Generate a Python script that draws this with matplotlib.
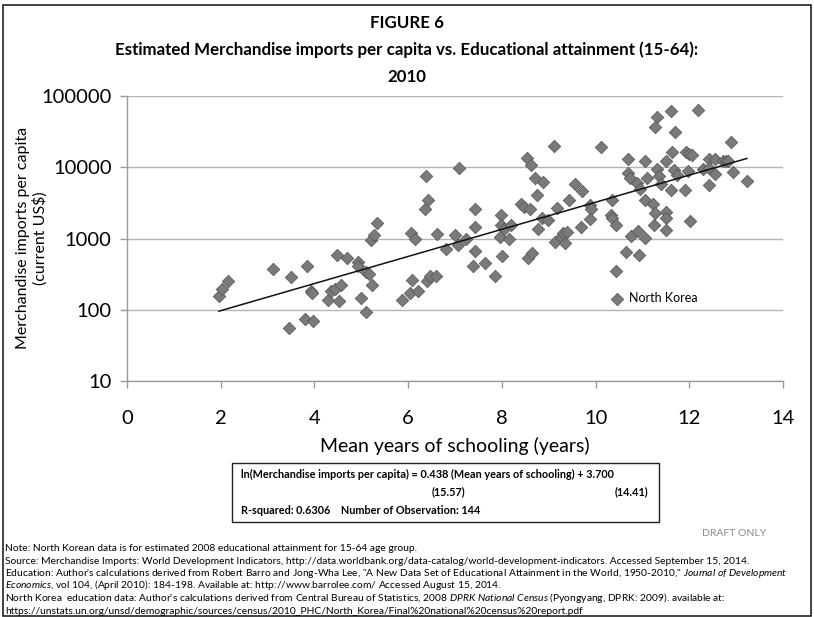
import numpy as np
import matplotlib
matplotlib.use("Agg")
import matplotlib.pyplot as plt
from matplotlib.patches import Rectangle

plt.rcParams["font.family"] = ["Lato", "DejaVu Sans"]
# italic titles inside the notes come through mathtext, so keep them in Lato
plt.rcParams["mathtext.fontset"] = "custom"
plt.rcParams["mathtext.rm"] = "Lato"
plt.rcParams["mathtext.it"] = "Lato:italic"

# mean years of schooling (15-64) and merchandise imports per capita (current US$)
schooling = [
    1.96, 2.03, 2.15, 3.12, 3.49, 3.84, 3.92, 3.94, 3.46, 3.79, 3.98, 4.28,
    4.35, 4.44, 4.57, 4.52, 4.48, 4.70, 4.94, 4.93, 5.00, 5.11, 5.11, 5.17,
    5.22, 5.20, 5.28, 5.33, 5.86, 6.03, 6.09, 6.21, 6.40, 6.46, 6.59, 6.07,
    6.15, 6.35, 6.43, 6.38, 6.61, 6.81, 6.99, 7.07, 7.23, 7.09, 7.43, 7.43,
    7.43, 7.39, 7.65, 7.85, 7.99, 7.98, 8.04, 7.96, 8.16, 8.19, 8.01, 8.41,
    8.47, 8.60, 8.54, 8.63, 8.70, 8.87, 8.74, 8.86, 8.77, 8.99, 8.55, 8.64,
    9.11, 9.17, 9.14, 9.27, 9.34, 9.31, 9.38, 9.43, 9.56, 9.71, 9.69, 9.88,
    9.91, 9.88, 10.11, 10.34, 10.33, 10.34, 10.43, 10.43, 10.69, 10.69, 10.74, 10.88,
    10.95, 11.05, 11.10, 11.05, 11.23, 11.27, 11.25, 10.75, 10.91, 11.05, 10.66, 10.93,
    11.32, 11.36, 11.51, 11.32, 11.27, 11.40, 11.51, 11.51, 11.51, 11.61, 11.63, 11.69,
    11.62, 11.67, 11.74, 11.90, 11.93, 11.99, 12.05, 11.97, 12.01, 12.18, 12.30, 12.43,
    12.43, 12.43, 12.55, 12.55, 12.73, 12.78, 12.83, 12.89, 12.94, 13.23,
]
imports_pc = [
    157, 195, 251, 369, 285, 409, 185, 173, 56, 73, 70, 136,
    185, 195, 223, 133, 578, 533, 470, 409, 147, 92, 335, 321,
    222, 955, 1120, 1675, 139, 170, 258, 186, 252, 298, 294, 1178,
    977, 2614, 3437, 7627, 1167, 713, 1102, 811, 994, 9900, 2614, 1430,
    675, 405, 447, 294, 2154, 1571, 1363, 1053, 984, 1571, 561, 3020,
    2789, 2630, 13460, 10700, 7175, 6285, 4040, 1937, 1372, 1816, 530, 622,
    19820, 2700, 882, 1033, 874, 1194, 1217, 3493, 5800, 4700, 1430, 2974,
    2614, 1876, 19190, 3518, 2154, 1968, 1571, 351, 12980, 8430, 7060, 5990,
    4935, 12370, 7030, 3493, 3090, 2276, 1561, 1094, 1274, 1026, 649, 593,
    9550, 7620, 12410, 51300, 37150, 5800, 2358, 1937, 1337, 4750, 16180, 31330,
    61660, 9200, 7880, 4720, 16260, 15170, 14920, 8960, 1776, 63680, 9440, 13240,
    9860, 5545, 13030, 8160, 12170, 12300, 12300, 22900, 8710, 6510,
]

# ln(imports) = slope * schooling + intercept
slope = 0.438
intercept = 3.700
x_ticks = [0, 2, 4, 6, 8, 10, 12, 14]
y_ticks = [10, 100, 1000, 10000, 100000]

W, H = 814, 617
fig = plt.figure(figsize=(W / 100, H / 100), dpi=100)


def fx(px):
    return px / W


def fy(py):
    return 1 - py / H


# outer chart border
fig.patches.append(Rectangle((fx(3), fy(616)), fx(808), 611 / H, transform=fig.transFigure,
                             fill=False, edgecolor="#222222", linewidth=1.2))

ax = fig.add_axes([fx(127), fy(381), fx(783 - 127), (381 - 96) / H])
ax.set_yscale("log")
ax.set_xlim(0, 14)
ax.set_ylim(10, 100000)
ax.set_xticks(x_ticks)
ax.set_yticks(y_ticks)
ax.set_yticklabels([str(v) for v in y_ticks])
ax.minorticks_off()
ax.tick_params(axis="both", labelsize=14.5, color="#9a9a9a", length=5, width=1)
ax.tick_params(axis="x", pad=16)
ax.tick_params(axis="y", pad=6)
ax.grid(axis="y", color="#b4b4b4", linewidth=1)
ax.set_axisbelow(True)
for side in ["top", "right"]:
    ax.spines[side].set_visible(False)
for side in ["left", "bottom"]:
    ax.spines[side].set_color("#9a9a9a")
    ax.spines[side].set_linewidth(1)

ax.scatter(schooling, imports_pc, marker="D", s=40, color="#7a7a7a",
           edgecolors="#5a5a5a", linewidths=0.6, zorder=3, label="North Korea")

xs = np.linspace(min(schooling), max(schooling), 50)
ax.plot(xs, np.exp(slope * xs + intercept), color="#111111", linewidth=1.1, zorder=4)

ax.legend(loc="center left", bbox_to_anchor=(0.738, 0.291), frameon=False, fontsize=9,
          handlelength=1, handletextpad=0.4, borderpad=0, borderaxespad=0, scatterpoints=1)

ax.set_xlabel("Mean years of schooling (years)", fontsize=14, labelpad=7)
fig.text(fx(32), fy(238), "Merchandise imports per capita\n(current US$)", rotation=90,
         ha="center", va="center", fontsize=11.5, linespacing=1.25)

# title block
title_size = 12.2
fig.text(fx(407), fy(23), "FIGURE 6", ha="center", va="center", fontsize=title_size, fontweight="bold")
fig.text(fx(407), fy(50), "Estimated Merchandise imports per capita vs. Educational attainment (15-64):",
         ha="center", va="center", fontsize=title_size, fontweight="bold")
fig.text(fx(407), fy(77), "2010", ha="center", va="center", fontsize=title_size, fontweight="bold")

# regression summary box
fig.patches.append(Rectangle((fx(232), fy(522)), fx(659 - 232), (522 - 463) / H,
                             transform=fig.transFigure, fill=False, edgecolor="#222222", linewidth=1))
eq = f"ln(Merchandise imports per capita) = {slope:.3f} (Mean years of schooling) + {intercept:.3f}"
fig.text(fx(241), fy(474), eq, ha="left", va="center", fontsize=7.8, fontweight="bold")
fig.text(fx(448), fy(492), "(15.57)", ha="center", va="center", fontsize=7.8, fontweight="bold")
fig.text(fx(631), fy(492), "(14.41)", ha="center", va="center", fontsize=7.8, fontweight="bold")
fig.text(fx(241), fy(510), "R-squared: 0.6306    Number of Observation: 144",
         ha="left", va="center", fontsize=7.8, fontweight="bold")

fig.text(fx(766), fy(534), "DRAFT ONLY", ha="right", va="center", fontsize=7.5, color="#8a8a8a")

# notes and sources, set on a common baseline grid
note_size = 7.4
notes_base = [551, 563.5, 576, 588.5, 601, 613.5]
note_lines = [
    "Note: North Korean data is for estimated 2008 educational attainment for 15-64 age group.",
    "Source: Merchandise Imports: World Development Indicators, http://data.worldbank.org/data-catalog/world-development-indicators. Accessed September 15, 2014.",
    "Education: Author's calculations derived from Robert Barro and Jong-Wha Lee, \"A New Data Set of Educational Attainment in the World, 1950-2010,\" $\\it{Journal\\ of\\ Development}$",
    "$\\it{Economics}$, vol 104, (April 2010): 184-198. Available at: http://www.barrolee.com/ Accessed August 15, 2014.",
    "North Korea  education data: Author's calculations derived from Central Bureau of Statistics, $\\it{2008\\ DPRK\\ National\\ Census}$ (Pyongyang, DPRK: 2009). available at:",
    "https://unstats.un.org/unsd/demographic/sources/census/2010_PHC/North_Korea/Final%20national%20census%20report.pdf",
]
for y, line in zip(notes_base, note_lines):
    fig.text(fx(5), fy(y), line, ha="left", va="baseline", fontsize=note_size)

fig.savefig("out.png", dpi=100)
